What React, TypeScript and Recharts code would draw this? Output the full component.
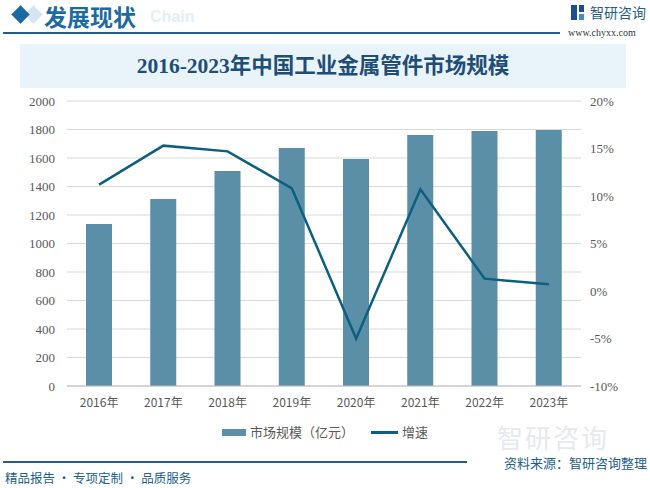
import React, { FC } from 'react';
import {
  ComposedChart,
  Bar,
  Line,
  XAxis,
  YAxis,
  CartesianGrid,
} from 'recharts';

const years = ['2016年', '2017年', '2018年', '2019年', '2020年', '2021年', '2022年', '2023年'];
const marketSize = [1137, 1312, 1509, 1670, 1593, 1761, 1789, 1796];
const growth = [11.2, 15.3, 14.7, 10.8, -5.0, 10.7, 1.3, 0.7];
const leftTicks = [0, 200, 400, 600, 800, 1000, 1200, 1400, 1600, 1800, 2000];
const rightTicks = [-10, -5, 0, 5, 10, 15, 20];
const boundaryTicks = [0, 1, 2, 3, 4, 5, 6, 7, 8];

const BAR_COLOR = '#5b8fa7';
const LINE_COLOR = '#0d5f80';
const DARK = '#1f5f8b';
const AXIS_FONT = '"Liberation Serif", "Noto Sans CJK SC", serif';
const SANS = '"Noto Sans CJK SC", "DejaVu Sans", sans-serif';

const App: FC = () => {
  const data = years.map((name, i) => ({
    name,
    idx: i + 0.5,
    size: marketSize[i],
    rate: growth[i],
  }));

  return (
    <div style={{ position: 'absolute', left: 0, top: 0, width: 650, height: 488, background: '#fff', fontFamily: SANS }}>
      {/* header */}
      <div style={{ position: 'absolute', left: 27, top: 8, width: 13, height: 13, background: '#d5e5f1', transform: 'rotate(45deg)' }} />
      <div style={{ position: 'absolute', left: 14, top: 8, width: 13, height: 13, background: '#1a69a3', transform: 'rotate(45deg)' }} />
      <div style={{ position: 'absolute', left: 150, top: 7, fontFamily: '"Liberation Sans", Arial, sans-serif', fontWeight: 'bold', fontSize: 16, color: '#e3eef7', lineHeight: '20px' }}>Chain</div>
      <div style={{ position: 'absolute', left: 44, top: 1, fontSize: 23, fontWeight: 'bold', color: '#1d6aa3', lineHeight: '30px', whiteSpace: 'nowrap' }}>发展现状</div>
      <div style={{ position: 'absolute', left: 3, top: 32, width: 557, height: 2, background: DARK }} />
      <div style={{ position: 'absolute', left: 571, top: 5, width: 6, height: 15, background: '#1d4f8f' }} />
      <div style={{ position: 'absolute', left: 579, top: 5, width: 5, height: 7, background: '#1d4f8f' }} />
      <div style={{ position: 'absolute', left: 579, top: 14, width: 5, height: 6, background: '#3d8fd0' }} />
      <div style={{ position: 'absolute', left: 590, top: 2, fontSize: 14, color: DARK, lineHeight: '20px' }}>智研咨询</div>
      <div style={{ position: 'absolute', left: 568, top: 26, fontSize: 10, fontFamily: '"Liberation Serif", serif', color: '#333', lineHeight: '14px' }}>www.chyxx.com</div>

      {/* title */}
      <div style={{ position: 'absolute', left: 20, top: 44, width: 606, height: 44, background: '#e9f3fa', textAlign: 'center', lineHeight: '44px', fontSize: 21.5, fontWeight: 'bold', color: '#1e4d78', fontFamily: '"Liberation Serif", "Noto Sans CJK SC", serif' }}>
        2016-2023年中国工业金属管件市场规模
      </div>

      <div style={{ position: 'absolute', left: 0, top: 90 }}>
        <ComposedChart
          width={650}
          height={328}
          data={data}
          margin={{ top: 11, right: 0, bottom: 2, left: 0 }}
        >
          <CartesianGrid yAxisId="left" vertical={false} stroke="#d9d9d9" />
          <XAxis
            xAxisId="edge"
            type="number"
            dataKey="idx"
            domain={[0, 8]}
            ticks={boundaryTicks}
            tick={false}
            axisLine={false}
            tickLine={{ stroke: '#bfbfbf' }}
            tickSize={5}
            height={0}
          />
          <XAxis
            dataKey="name"
            axisLine={{ stroke: '#bfbfbf' }}
            tickLine={false}
            tickMargin={6}
            height={30}
            tick={{ fill: '#595959', fontSize: 12, fontFamily: SANS }}
          />
          <YAxis
            yAxisId="left"
            width={67}
            domain={[0, 2000]}
            ticks={leftTicks}
            axisLine={false}
            tickLine={false}
            tickMargin={6}
            tick={{ fill: '#595959', fontSize: 13, fontFamily: AXIS_FONT }}
          />
          <YAxis
            yAxisId="right"
            orientation="right"
            width={69}
            domain={[-10, 20]}
            ticks={rightTicks}
            axisLine={false}
            tickLine={false}
            tickMargin={3}
            tickFormatter={(v) => `${v}%`}
            tick={{ fill: '#595959', fontSize: 13, fontFamily: AXIS_FONT, textAnchor: 'start' }}
          />
          <Bar yAxisId="left" dataKey="size" fill={BAR_COLOR} barSize={26} isAnimationActive={false} />
          <Line
            yAxisId="right"
            dataKey="rate"
            stroke={LINE_COLOR}
            strokeWidth={2.5}
            dot={false}
            activeDot={false}
            isAnimationActive={false}
          />
        </ComposedChart>
      </div>

      {/* legend */}
      <div style={{ position: 'absolute', left: 222, top: 429, width: 24, height: 7, background: BAR_COLOR }} />
      <div style={{ position: 'absolute', left: 250, top: 423, fontSize: 13, color: '#595959', lineHeight: '18px' }}>市场规模（亿元）</div>
      <div style={{ position: 'absolute', left: 371, top: 431, width: 27, height: 3, background: LINE_COLOR }} />
      <div style={{ position: 'absolute', left: 402, top: 423, fontSize: 13, color: '#595959', lineHeight: '18px' }}>增速</div>

      {/* footer */}
      <div style={{ position: 'absolute', left: 497, top: 422, fontSize: 26, color: '#e6e9ed', lineHeight: '30px', letterSpacing: 2 }}>智研咨询</div>
      <div style={{ position: 'absolute', left: 3, top: 461, width: 464, height: 1.5, background: DARK }} />
      <div style={{ position: 'absolute', left: 5, top: 469, fontSize: 12.5, color: DARK, lineHeight: '18px', whiteSpace: 'nowrap' }}>精品报告 · 专项定制 · 品质服务</div>
      <div style={{ position: 'absolute', left: 504, top: 454, fontSize: 13, color: DARK, lineHeight: '18px' }}>资料来源：智研咨询整理</div>
    </div>
  );
};

export default App;
